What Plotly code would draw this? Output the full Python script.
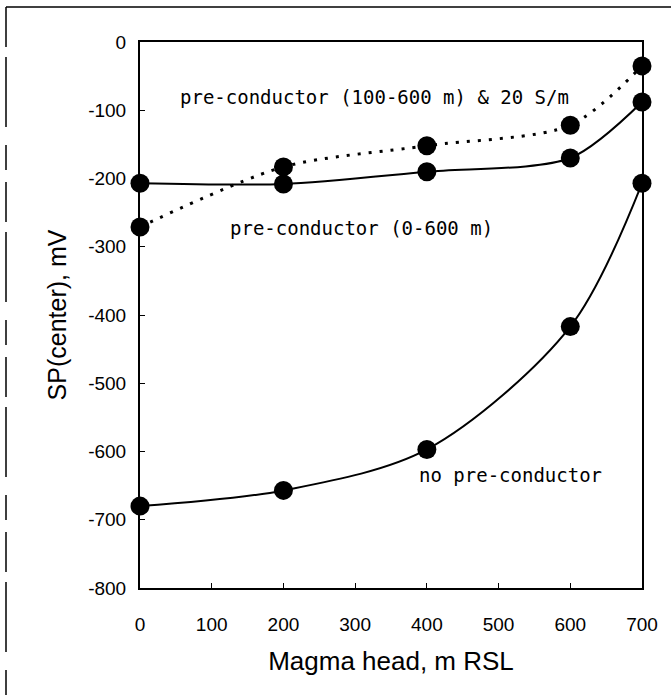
import plotly.graph_objects as go

# Data
magma_head = [0, 200, 400, 600, 700]
sp_no_pre = [-680, -657, -597, -417, -207]
sp_pre_0_600 = [-207, -208, -190, -170, -88]
sp_pre_100_600_20 = [-271, -183, -152, -122, -35]

x_ticks = [0, 100, 200, 300, 400, 500, 600, 700]
y_ticks = [0, -100, -200, -300, -400, -500, -600, -700, -800]
y_ticktext = ["0", "-100", "-200", "-300", "-400", "-500", "-600", "-700", "-800"]

label_font = dict(family="DejaVu Sans Mono", size=19, color="black")

fig = go.Figure()

fig.add_trace(go.Scatter(
    x=magma_head, y=sp_pre_100_600_20, mode="lines+markers",
    line=dict(color="black", width=3, dash="3px,8px", shape="spline", smoothing=0.8),
    marker=dict(size=19, color="black"), showlegend=False, cliponaxis=False))
fig.add_trace(go.Scatter(
    x=magma_head, y=sp_pre_0_600, mode="lines+markers",
    line=dict(color="black", width=2, shape="spline", smoothing=0.8),
    marker=dict(size=19, color="black"), showlegend=False, cliponaxis=False))
fig.add_trace(go.Scatter(
    x=magma_head, y=sp_no_pre, mode="lines+markers",
    line=dict(color="black", width=2, shape="spline", smoothing=0.9),
    marker=dict(size=19, color="black"), showlegend=False, cliponaxis=False))

fig.add_annotation(x=0, xref="paper", xanchor="left", xshift=38,
                   y=-80, yref="y", yanchor="middle",
                   text="pre-conductor (100-600 m) & 20 S/m",
                   showarrow=False, font=label_font)
fig.add_annotation(x=0, xref="paper", xanchor="left", xshift=88,
                   y=-273, yref="y", yanchor="middle",
                   text="pre-conductor (0-600 m)",
                   showarrow=False, font=label_font)
fig.add_annotation(x=0, xref="paper", xanchor="left", xshift=277,
                   y=-635, yref="y", yanchor="middle",
                   text="no pre-conductor",
                   showarrow=False, font=label_font)

# outer scan frame (top and left edges)
fig.add_shape(type="line", xref="paper", yref="paper",
              x0=(6 - 140) / 502, x1=(671 - 140) / 502,
              y0=(588 - 7) / 546, y1=(588 - 7) / 546,
              line=dict(color="black", width=1.5))
fig.add_shape(type="line", xref="paper", yref="paper",
              x0=(6 - 140) / 502, x1=(6 - 140) / 502,
              y0=(588 - 7) / 546, y1=(588 - 700) / 546,
              line=dict(color="black", width=1.5, dash="40px,10px,70px,18px,25px,12px"))

tick_font = dict(family="Liberation Sans", size=19, color="black")

fig.update_xaxes(range=[0, 700], tickvals=x_ticks, ticks="inside", ticklen=5,
                 tickwidth=1, tickcolor="black", showline=True, linecolor="black",
                 linewidth=2, mirror=True, showgrid=False, zeroline=False,
                 tickfont=tick_font, ticklabelstandoff=18,
                 title=dict(text="Magma head, m RSL",
                            font=dict(family="Liberation Sans", size=26, color="black"),
                            standoff=18))
fig.update_yaxes(range=[-800, 0], tickvals=y_ticks, ticktext=y_ticktext,
                 ticks="inside", ticklen=5, tickwidth=1, tickcolor="black",
                 showline=True, linecolor="black", linewidth=2, mirror=True,
                 showgrid=False, zeroline=False, tickfont=tick_font,
                 ticklabelstandoff=8,
                 title=dict(text="SP(center), mV",
                            font=dict(family="Liberation Sans", size=25, color="black"),
                            standoff=14))

fig.update_layout(width=671, height=700, margin=dict(l=140, r=29, t=42, b=112),
                  plot_bgcolor="white", paper_bgcolor="white")

fig.write_html("out.html")
